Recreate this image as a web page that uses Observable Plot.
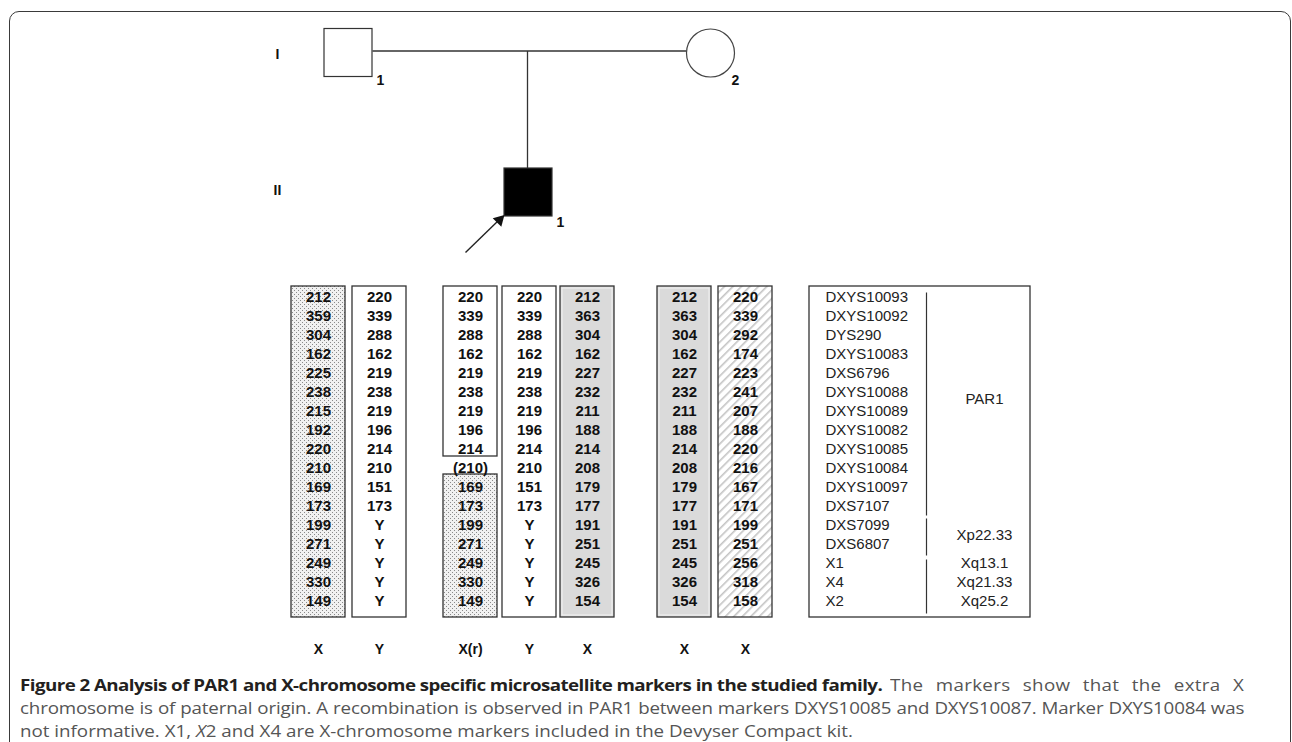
<!DOCTYPE html>
<html><head><meta charset="utf-8">
<script src="https://cdn.jsdelivr.net/npm/d3@7"></script>
<script src="https://cdn.jsdelivr.net/npm/@observablehq/plot@0.6"></script>
<style>
body{margin:0;background:#fff;}
#page{position:relative;width:1292px;height:742px;overflow:hidden;background:#fff;}
#fig{position:absolute;left:0;top:0;}
#frame{position:absolute;left:9px;top:11px;width:1282px;height:800px;border:1.5px solid #3a3a3a;border-radius:10px;box-sizing:border-box;pointer-events:none;}
.ln{position:absolute;left:20px;white-space:nowrap;font-family:"Open Sans","Noto Sans",sans-serif;font-size:16.8px;line-height:23px;height:23px;color:#555;transform:scaleX(1.117);transform-origin:0 0;}
.j{white-space:normal;text-align:justify;text-align-last:justify;}
.ln b{color:#231f20;font-weight:700;letter-spacing:-0.5px;}
</style></head>
<body>
<div id="page">
  <div id="fig"></div>
  <div id="frame"></div>
  <div class="ln" style="top:673px"><b>Figure 2 Analysis of PAR1 and X-chromosome specific microsatellite markers in the studied family.</b></div>
  <div class="ln j" style="top:673px;left:890px;width:317px;letter-spacing:0.3px;">The markers show that the extra X</div>
  <div class="ln j" style="top:696px;width:1096px;letter-spacing:-0.15px;">chromosome is of paternal origin. A recombination is observed in PAR1 between markers DXYS10085 and DXYS10087. Marker DXYS10084 was</div>
  <div class="ln" style="top:719px;">not informative. X1, <i>X</i>2 and X4 are X-chromosome markers included in the Devyser Compact kit.</div>
</div>
<script>
// ---------- data ----------
const markers = ["DXYS10093","DXYS10092","DYS290","DXYS10083","DXS6796","DXYS10088","DXYS10089","DXYS10082","DXYS10085","DXYS10084","DXYS10097","DXS7107","DXS7099","DXS6807","X1","X4","X2"];
const fatherX = ["212","359","304","162","225","238","215","192","220","210","169","173","199","271","249","330","149"];
const fatherY = ["220","339","288","162","219","238","219","196","214","210","151","173","Y","Y","Y","Y","Y"];
const probandXr = ["220","339","288","162","219","238","219","196","214","(210)","169","173","199","271","249","330","149"];
const probandY = ["220","339","288","162","219","238","219","196","214","210","151","173","Y","Y","Y","Y","Y"];
const probandX = ["212","363","304","162","227","232","211","188","214","208","179","177","191","251","245","326","154"];
const motherX1 = ["212","363","304","162","227","232","211","188","214","208","179","177","191","251","245","326","154"];
const motherX2 = ["220","339","292","174","223","241","207","188","220","216","167","171","199","251","256","318","158"];
const columnLabels = ["X","Y","X(r)","Y","X","X","X"];
const regionNames = ["PAR1","Xp22.33","Xq13.1","Xq21.33","Xq25.2"];
const regionFirst = [0,12,14,15,16];
const regionLast = [11,13,14,15,16];
const generations = ["I","II"];
const individualIds = ["1","2","1"];
const individualGen = [0,0,1];
const individualSex = ["male","female","male"];
const individualAffected = [false,false,true];

// ---------- layout (code only) ----------
const columns = [fatherX, fatherY, probandXr, probandY, probandX, motherX1, motherX2];
const colLeft = [291,352,443,502,560,657,718];
const colW = 54;
const colFill = ["url(#stipple)","white","white","white","#dadada","#dadada","url(#hatch)"];
const rowY = d3.scalePoint().domain(d3.range(markers.length)).range([297,601]);
const boxTop = 286, boxBottom = 617;

const boxes = [];
const bevels = [];
columns.forEach((c,i)=>{
  if (i===2){
    boxes.push({x1:colLeft[i],x2:colLeft[i]+colW,y1:boxTop,y2:rowY(8)+7,fill:"white"});
    boxes.push({x1:colLeft[i],x2:colLeft[i]+colW,y1:rowY(10)-13,y2:boxBottom,fill:"url(#stipple)"});
  } else {
    boxes.push({x1:colLeft[i],x2:colLeft[i]+colW,y1:boxTop,y2:boxBottom,fill:colFill[i]});
    if (colFill[i].startsWith("#")) bevels.push({x1:colLeft[i]+2,x2:colLeft[i]+colW-2,y1:boxTop+2,y2:boxBottom-2});
  }
});
const cells = [];
columns.forEach((c,i)=>c.forEach((v,r)=>cells.push({x:colLeft[i]+colW/2,y:rowY(r),v})));
const colLabelData = columnLabels.map((t,i)=>({x:colLeft[i]+colW/2,y:649,t}));

const mBox = {x1:809,x2:1030,y1:boxTop,y2:boxBottom};
const markerText = markers.map((m,r)=>({x:825,y:rowY(r),t:m}));
const dividerX = 926;
const dividerSegs = [
  {y1:rowY(0)-5,y2:rowY(11)+9},
  {y1:rowY(12)-7,y2:rowY(13)+11},
  {y1:rowY(14)-4,y2:rowY(16)+12}
];
const regionText = regionNames.map((t,k)=>({x:984,y:(rowY(regionFirst[k])+rowY(regionLast[k]))/2+(k===0?-3:0),t}));

// pedigree
const genY = [52.5,192];
const indX = [348,710,528];
const S = 48;
const squares = individualIds.map((id,i)=>({i})).filter(d=>individualSex[d.i]==="male").map(d=>({
  x1:indX[d.i]-S/2,x2:indX[d.i]+S/2,y1:genY[individualGen[d.i]]-S/2,y2:genY[individualGen[d.i]]+S/2,
  fill:individualAffected[d.i]?"black":"white"}));
const circles = individualIds.map((id,i)=>({i})).filter(d=>individualSex[d.i]==="female").map(d=>({x:indX[d.i],y:genY[individualGen[d.i]]}));
const idLabels = individualIds.map((id,i)=>({x:indX[i]+S/2+(individualSex[i]==="female"?1:8),y:genY[individualGen[i]]+(individualGen[i]===0?28:30),t:id}));
const genLabels = generations.map((g,k)=>({x:277,y:genY[k]+(k===0?2:-2),t:g}));
const marriage = [{x1:indX[0]+S/2,x2:indX[1]-S/2,y1:50.5,y2:50.5}];
const descent = [{x1:527,x2:527,y1:50.5,y2:genY[1]-S/2}];

const valueFont = '"Liberation Sans", Arial, sans-serif';

const plot = Plot.plot({
  width:1292, height:665, margin:0,
  x:{domain:[0,1292],range:[0,1292],axis:null},
  y:{domain:[0,665],range:[0,665],axis:null},
  style:{background:"transparent"},
  marks:[
    // pedigree
    Plot.link(marriage,{x1:"x1",x2:"x2",y1:"y1",y2:"y2",stroke:"#333",strokeWidth:1.3}),
    Plot.link(descent,{x1:"x1",x2:"x2",y1:"y1",y2:"y2",stroke:"#333",strokeWidth:1.3}),
    Plot.rect(squares,{x1:"x1",x2:"x2",y1:"y1",y2:"y2",fill:"fill",stroke:"#333",strokeWidth:1.2}),
    Plot.dot(circles,{x:"x",y:"y",r:24,stroke:"#444",strokeWidth:1.2,fill:"white"}),
    Plot.link([{x1:465,y1:252,x2:499,y2:219}],{x1:"x1",y1:"y1",x2:"x2",y2:"y2",stroke:"#222",strokeWidth:1.4}),
    Plot.dot([{x:499,y:219.5}],{x:"x",y:"y",symbol:"triangle",r:4.5,rotate:45,fill:"#111",stroke:"none"}),
    Plot.text(idLabels,{x:"x",y:"y",text:"t",fontSize:14,fontWeight:"bold",fontFamily:valueFont,fill:"#111"}),
    Plot.text(genLabels,{x:"x",y:"y",text:"t",fontSize:14,fontWeight:"bold",fontFamily:valueFont,fill:"#111"}),
    // haplotypes
    Plot.rect(boxes,{x1:"x1",x2:"x2",y1:"y1",y2:"y2",fill:"fill",stroke:"#333",strokeWidth:1.3}),
    Plot.rect(bevels,{x1:"x1",x2:"x2",y1:"y1",y2:"y2",fill:"none",stroke:"#f2f2f2",strokeWidth:1}),
    Plot.text(cells,{x:"x",y:"y",text:"v",fontSize:15,fontWeight:"bold",fontFamily:valueFont,fill:"#111"}),
    Plot.text(colLabelData,{x:"x",y:"y",text:"t",fontSize:14,fontWeight:"bold",fontFamily:valueFont,fill:"#111"}),
    // marker box
    Plot.rect([mBox],{x1:"x1",x2:"x2",y1:"y1",y2:"y2",fill:"white",stroke:"#333",strokeWidth:1.3}),
    Plot.text(markerText,{x:"x",y:"y",text:"t",textAnchor:"start",fontSize:15,fontFamily:valueFont,fill:"#222"}),
    Plot.link(dividerSegs,{x1:()=>dividerX,x2:()=>dividerX,y1:"y1",y2:"y2",stroke:"#333",strokeWidth:1.2}),
    Plot.text(regionText,{x:"x",y:"y",text:"t",fontSize:15,fontFamily:valueFont,fill:"#222"})
  ]
});

const defs = d3.select(plot).insert("defs",":first-child");
const st = defs.append("pattern").attr("id","stipple").attr("width",4).attr("height",4).attr("patternUnits","userSpaceOnUse");
st.append("rect").attr("width",4).attr("height",4).attr("fill","#f1f1f1");
st.append("rect").attr("x",0).attr("y",0).attr("width",1).attr("height",1).attr("fill","#8a8a8a");
st.append("rect").attr("x",2).attr("y",2).attr("width",1).attr("height",1).attr("fill","#8a8a8a");
const ht = defs.append("pattern").attr("id","hatch").attr("width",6).attr("height",6).attr("patternUnits","userSpaceOnUse").attr("patternTransform","rotate(45)");
ht.append("rect").attr("width",6).attr("height",6).attr("fill","white");
ht.append("rect").attr("x",0).attr("width",1.6).attr("height",6).attr("fill","#c4c4c4");

document.getElementById("fig").appendChild(plot);
</script>
</body></html>
